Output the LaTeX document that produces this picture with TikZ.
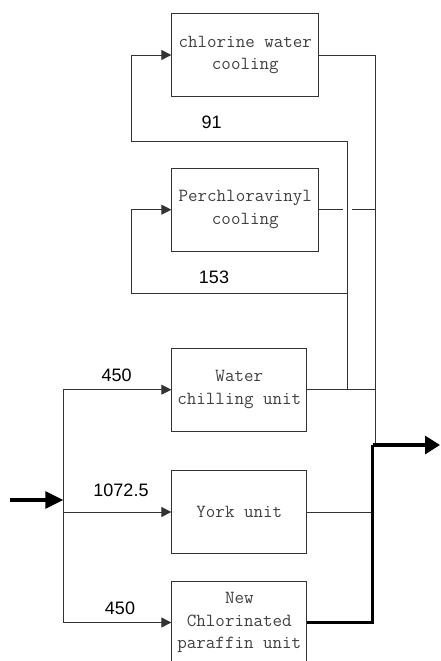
\documentclass[tikz,border=0pt]{standalone}
\usepackage{fontspec}
\newfontfamily\numfont{Liberation Sans}
\usetikzlibrary{arrows.meta}
\begin{document}
\begin{tikzpicture}[x=1pt, y=-1pt, line join=miter,
		unit/.style={draw=black!80, line width=0.9pt, inner sep=0pt, align=center, text=black!75,
			font=\ttfamily\fontsize{18.5}{22.5}\selectfont},
		flow/.style={draw=black!80, line width=0.9pt},
		feed/.style={flow, -{Triangle[length=10pt, width=10pt]}},
		main/.style={draw=black, line width=3.2pt},
		qty/.style={font=\numfont\fontsize{18}{18}\selectfont}]
	\useasboundingbox (0,0) rectangle (440,661);
	\node[unit, minimum width=147pt, minimum height=83pt] (cwc) at (245.3,55) {chlorine water\\cooling};
	\node[unit, minimum width=147pt, minimum height=83pt] (pvc) at (245.3,209.7) {Perchloravinyl\\cooling};
	\node[unit, minimum width=135pt, minimum height=83pt] (wcu) at (239.3,389.7) {Water\\chilling unit};
	\node[unit, minimum width=135pt, minimum height=83pt] (york) at (239.3,512) {York unit};
	\node[unit, minimum width=135pt, minimum height=83pt] (ncp) at (239.3,622.5) {New\\Chlorinated\\paraffin unit};

	\coordinate (in) at (10,500);
	\coordinate (bus) at (63.3,500);
	\coordinate (lft) at (131,0);
	\coordinate (colA) at (347.7,0);
	\coordinate (colB) at (375,0);
	\coordinate (out) at (372.7,445);
	\coordinate (tip) at (440,445);

	% supply side
	\draw[main, -{Triangle[length=18pt, width=17pt]}] (in) -- (bus);
	\draw[flow] (bus |- wcu.west) -- (bus |- ncp.west);
	\draw[feed] (bus |- wcu.west) -- (wcu.west);
	\draw[feed] (bus |- york.west) -- (york.west);
	\draw[feed] (bus |- ncp.west) -- (ncp.west);
	\node[qty] (q1) at (116.7,375) {450};
	\node[qty] (q2) at (121,490) {1072.5};
	\node[qty] (q3) at (120,608) {450};

	% recirculation from water chilling unit
	\draw[flow, line width=1.5pt] (wcu.east) -- (colA |- wcu.east);
	\draw[flow] (colA |- wcu.east) -- (colB |- wcu.east);
	\draw[flow] (colA |- wcu.east) -- (colA |- 0,141);
	\draw[feed] (colA |- 0,141) -- (lft |- 0,141) |- (cwc.west);
	\draw[feed] (colA |- 0,293.3) -- (lft |- 0,293.3) |- (pvc.west);
	\node[qty] (q4) at (211.7,122.7) {91};
	\node[qty] (q5) at (214,277.7) {153};

	% return side
	\draw[flow] (cwc.east) -| (colB |- out);
	\draw[flow] (pvc.east) -- (343,209.7);
	\draw[flow] (352,209.7) -- (colB |- pvc.east);
	\draw[flow] (york.east) -- (out |- york.east);
	\draw[main] (ncp.east) -| (out);
	\draw[main, -{Triangle[length=15pt, width=18pt]}] (out) -- (tip);
\end{tikzpicture}
\end{document}
